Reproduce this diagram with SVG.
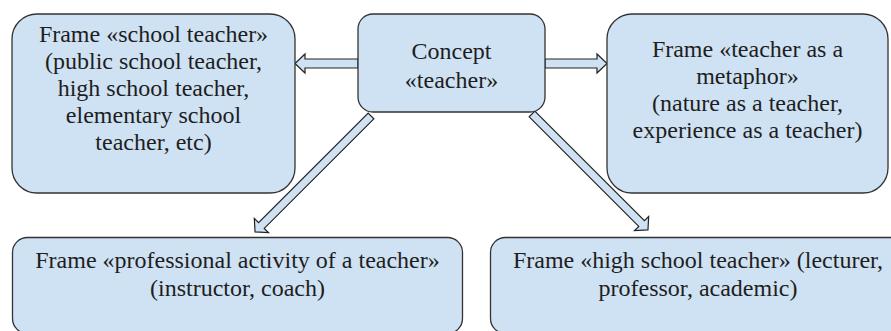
<svg xmlns="http://www.w3.org/2000/svg" width="891" height="331" viewBox="0 0 891 331">
<style>
.box{fill:#cfe2f3;stroke:#333;stroke-width:1.3}
.arr{fill:#cfe2f3;stroke:#222;stroke-width:1.2;stroke-linejoin:miter}
.t{font-family:'Liberation Serif','Tinos','Times New Roman','DejaVu Serif',serif;font-size:24px;fill:#1e1e1e;text-anchor:middle}
</style>
<rect width="891" height="331" fill="#fff"/>
<g id="connectors">
<path class="arr" d="M0,-4.5 H53 V-9.5 L63,0 L53,9.5 V4.5 H0 Z" transform="translate(358,63.5) rotate(180)"/>
<path class="arr" d="M0,-4.5 H52 V-9.5 L62,0 L52,9.5 V4.5 H0 Z" transform="translate(545,63.5)"/>
<path class="arr" d="M0,-4 H155 V-10 L164,0 L155,10 V4 H0 Z" transform="translate(371,116) rotate(135)"/>
<path class="arr" d="M0,-4 H155 V-10 L164,0 L155,10 V4 H0 Z" transform="translate(532,114) rotate(45)"/>
</g>
<g id="concept">
<rect class="box" x="358" y="14" width="187" height="98" rx="15"/>
<text class="t" x="451.5" y="59">Concept</text>
<text class="t" x="451.5" y="88">«teacher»</text>
</g>
<g id="frame-school-teacher">
<rect class="box" x="12" y="14" width="283" height="179" rx="25"/>
<text class="t" x="153.5" y="42">Frame «school teacher»</text>
<text class="t" x="153.5" y="69">(public school teacher,</text>
<text class="t" x="153.5" y="96">high school teacher,</text>
<text class="t" x="153.5" y="123">elementary school</text>
<text class="t" x="153.5" y="150">teacher, etc)</text>
</g>
<g id="frame-metaphor">
<rect class="box" x="607" y="14" width="281" height="179" rx="25"/>
<text class="t" x="747.5" y="57">Frame «teacher as a</text>
<text class="t" x="747.5" y="84">metaphor»</text>
<text class="t" x="747.5" y="111">(nature as a teacher,</text>
<text class="t" x="747.5" y="138">experience as a teacher)</text>
</g>
<g id="frame-professional-activity">
<rect class="box" x="12.5" y="237.5" width="450" height="96" rx="15"/>
<text class="t" x="237.5" y="268">Frame «professional activity of a teacher»</text>
<text class="t" x="237.5" y="296">(instructor, coach)</text>
</g>
<g id="frame-high-school-teacher">
<rect class="box" x="490.5" y="237.5" width="415" height="96" rx="15"/>
<text class="t" x="698" y="268">Frame «high school teacher» (lecturer,</text>
<text class="t" x="698" y="296">professor, academic)</text>
</g>
</svg>
